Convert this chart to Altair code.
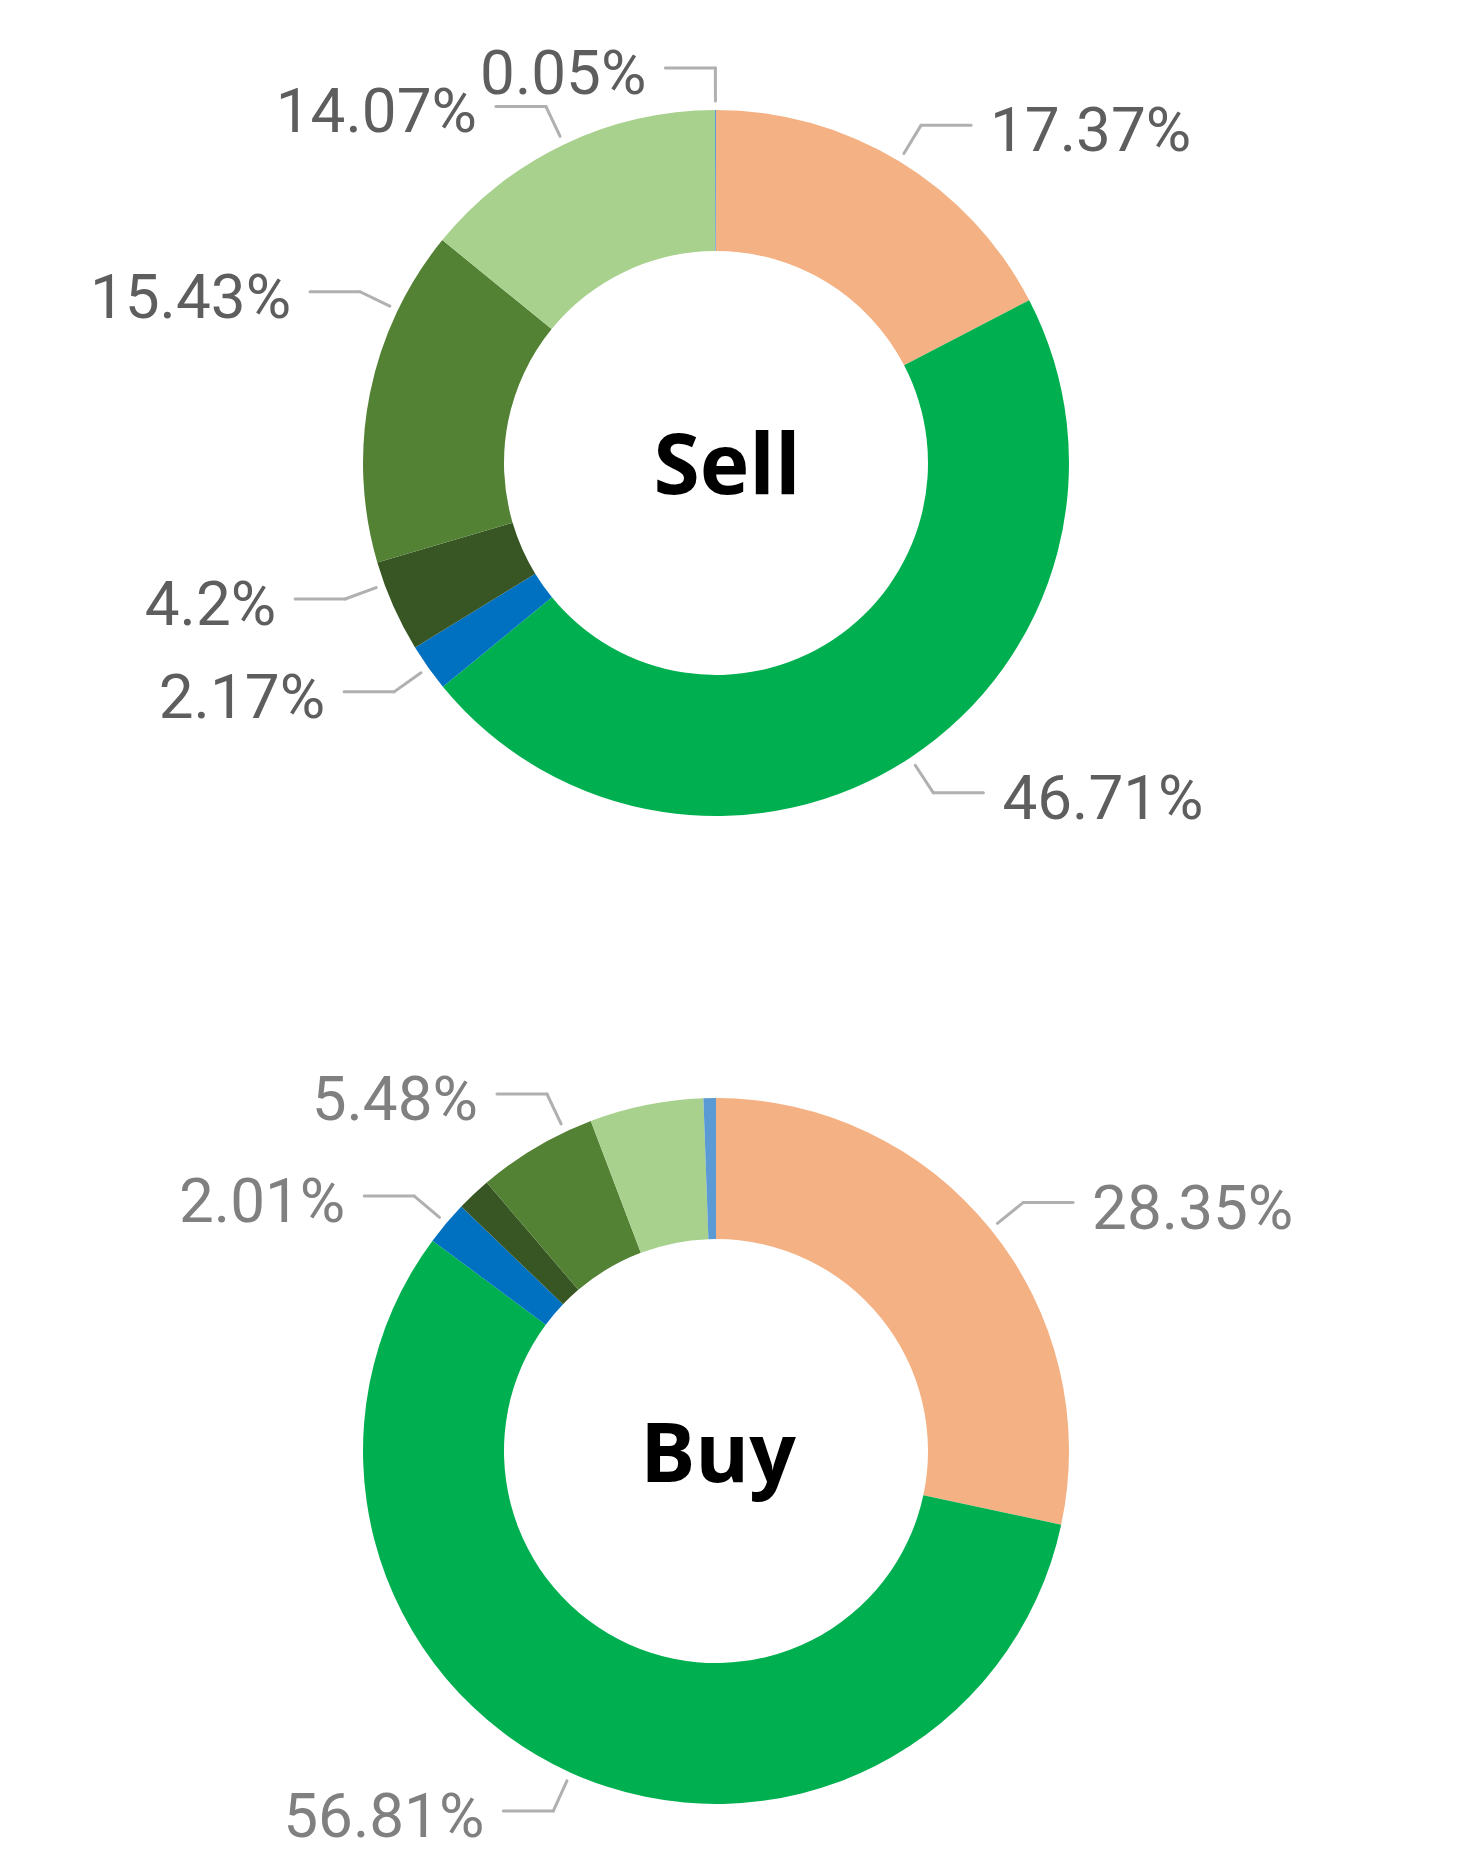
import altair as alt
import pandas as pd

# ---------------- data ----------------
charts = ["Sell", "Buy"]
categories = ["Cat 1", "Cat 2", "Cat 3", "Cat 4", "Cat 5", "Cat 6", "Cat 7"]
colors = ["#F4B183", "#00B050", "#0070C0", "#375623", "#548235", "#A9D18E", "#5B9BD5"]
sell_values = [17.37, 46.71, 2.17, 4.2, 15.43, 14.07, 0.05]
buy_values = [28.35, 56.81, 2.01, 1.58, 5.48, 5.20, 0.57]
sell_labels = ["17.37%", "46.71%", "2.17%", "4.2%", "15.43%", "14.07%", "0.05%"]
buy_labels = ["28.35%", "56.81%", "2.01%", "", "5.48%", "", ""]

rows = []
for name, vals, labs in [("Sell", sell_values, sell_labels), ("Buy", buy_values, buy_labels)]:
    for i, (c, v, l) in enumerate(zip(categories, vals, labs)):
        rows.append({"chart": name, "category": c, "value": v, "label": l, "order": i})
df = pd.DataFrame(rows)

# ---------------- layout ----------------
W, H = 1458, 1834
CX = 708
CY = {"Sell": 455, "Buy": 1443}
R_OUT, R_IN = 353, 212
R_LEAD0, R_ELBOW = 362, 395
LEAD_H, GAP = 50, 19
LABEL_FONT, LABEL_SIZE = "Roboto", 62
LABEL_COLOR = {"Sell": "#5E5E5E", "Buy": "#808080"}
LEADER_COLOR = "#B0B0B0"
TITLE_SIZE = {"Sell": 84, "Buy": 82}
TITLE_DX = {"Sell": 11, "Buy": 2}
# label-placement nudges (degrees, clockwise) as the original renderer spreads some labels
LABEL_NUDGE_DEG = {("Sell", "Cat 5"): 14.3, ("Sell", "Cat 4"): 3.8, ("Buy", "Cat 5"): 5.3}

color_scale = alt.Scale(domain=categories, range=colors)

layers = []

# donut arcs
for name in charts:
    layers.append(
        alt.Chart(df)
        .transform_filter(alt.datum.chart == name)
        .mark_arc(radius=R_OUT, radius2=R_IN, strokeWidth=0)
        .encode(
            theta=alt.Theta("value:Q", stack=True),
            color=alt.Color("category:N", scale=color_scale, legend=None),
            order=alt.Order("order:Q"),
            x=alt.value(CX),
            y=alt.value(CY[name]),
        )
    )

# label geometry computed from the data
cy_expr = f"datum.chart === 'Sell' ? {CY['Sell']} : {CY['Buy']}"
nudge_expr = "0"
for (ch, cat), deg in LABEL_NUDGE_DEG.items():
    nudge_expr = f"(datum.chart === '{ch}' && datum.category === '{cat}') ? {deg} : ({nudge_expr})"

geo = (
    alt.Chart(df)
    .transform_joinaggregate(total="sum(value)", groupby=["chart"])
    .transform_window(cum="sum(value)", groupby=["chart"], sort=[alt.SortField("order")], frame=[None, 0])
    .transform_calculate(
        mid=f"(datum.cum - datum.value / 2) / datum.total * 2 * PI + ({nudge_expr}) * PI / 180",
        cy=cy_expr,
    )
    .transform_calculate(
        side="sin(datum.mid) < 0 ? -1 : 1",
        sx=f"{CX} + {R_LEAD0} * sin(datum.mid)",
        sy=f"datum.cy - {R_LEAD0} * cos(datum.mid)",
        ex=f"{CX} + {R_ELBOW} * sin(datum.mid)",
        ey=f"datum.cy - {R_ELBOW} * cos(datum.mid)",
    )
    .transform_calculate(
        hx=f"datum.ex + datum.side * {LEAD_H}",
        tx=f"datum.ex + datum.side * {LEAD_H + GAP}",
        ty="datum.ey + 26",
    )
    .transform_filter("datum.label != ''")
)

px = lambda f: alt.X(f, scale=None, axis=None)
py = lambda f: alt.Y(f, scale=None, axis=None)

layers.append(
    geo.mark_rule(color=LEADER_COLOR, strokeWidth=3, strokeCap="round").encode(
        x=px("sx:Q"), y=py("sy:Q"), x2="ex:Q", y2="ey:Q"
    )
)
layers.append(
    geo.mark_rule(color=LEADER_COLOR, strokeWidth=3, strokeCap="round").encode(
        x=px("ex:Q"), y=py("ey:Q"), x2="hx:Q", y2="ey:Q"
    )
)

for name in charts:
    for side, align in [(-1, "right"), (1, "left")]:
        layers.append(
            geo.transform_filter(f"datum.chart === '{name}' && datum.side === {side}")
            .mark_text(align=align, baseline="alphabetic", font=LABEL_FONT,
                       fontSize=LABEL_SIZE, color=LABEL_COLOR[name])
            .encode(x=px("tx:Q"), y=py("ty:Q"), text="label:N")
        )

# center titles
titles = pd.DataFrame({"chart": charts})
for name in charts:
    layers.append(
        alt.Chart(titles)
        .transform_filter(alt.datum.chart == name)
        .mark_text(align="center", baseline="alphabetic", font="Open Sans",
                   fontWeight="bold", fontSize=TITLE_SIZE[name], color="#000000",
                   dx=TITLE_DX[name])
        .encode(x=alt.value(CX), y=alt.value(CY[name] + 31), text="chart:N")
    )

chart = (
    alt.layer(*layers)
    .resolve_scale(theta="independent")
    .properties(width=W, height=H, autosize="none", padding=0, background="white")
    .configure_view(strokeWidth=0)
)

chart.save("out.html", embed_options={"renderer": "svg", "actions": False})
